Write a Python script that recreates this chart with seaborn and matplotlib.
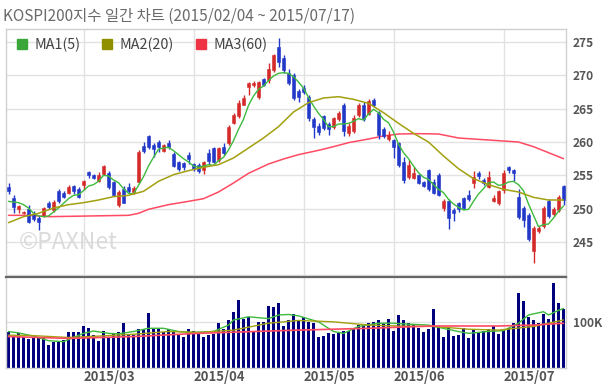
import numpy as np
import pandas as pd
import seaborn as sns
import matplotlib.pyplot as plt
from matplotlib.lines import Line2D

title = "KOSPI200지수 일간 차트 (2015/02/04 ~ 2015/07/17)"
month_pos = [15, 37, 59, 77, 99]
month_labels = ["2015/03", "2015/04", "2015/05", "2015/06", "2015/07"]
price_ticks = [240, 245, 250, 255, 260, 265, 270, 275]

# daily candles (trading days 2015/02/04 .. 2015/07/17)
opens = [253.2, 251.6, 249.9, 249.3, 250.0, 249.0, 248.6, 248.9, 250.8, 249.8,
         252.6, 252.4, 252.4, 253.4, 253.0, 253.5, 255.5, 255.0, 254.1, 255.2,
         255.3, 254.0, 250.6, 253.0, 253.2, 252.5, 254.0, 259.4, 260.9, 259.6,
         260.0, 258.7, 259.8, 258.2, 257.0, 256.9, 258.1, 256.7, 256.5, 255.8,
         258.3, 259.1, 257.3, 259.3, 259.8, 262.9, 263.9, 265.6, 268.3, 268.5,
         266.8, 269.4, 269.3, 270.8, 274.3, 272.6, 270.4, 270.0, 267.6, 268.1,
         266.7, 263.5, 262.4, 263.9, 262.7, 262.3, 263.4, 265.6, 261.3, 261.6,
         264.0, 265.6, 264.2, 266.3, 264.4, 262.0, 260.5, 260.3, 259.8, 257.0,
         254.8, 254.6, 255.0, 254.0, 255.8, 254.0, 255.0, 250.1, 251.2, 249.8,
         250.8, 251.6, 252.1, 253.8, 255.3, 254.3, 253.3, 251.2, 250.8, 252.8,
         256.3, 255.8, 251.8, 250.1, 249.1, 243.6, 246.6, 247.4, 251.1, 249.2,
         249.8, 253.4]
closes = [252.6, 250.2, 250.4, 249.5, 248.0, 248.4, 248.0, 250.1, 250.2, 251.0,
          251.1, 251.8, 253.3, 252.6, 251.8, 254.2, 255.0, 254.6, 255.0, 256.4,
          253.3, 252.1, 252.5, 250.9, 252.6, 253.1, 258.5, 258.7, 259.3, 258.9,
          259.3, 259.5, 259.2, 256.4, 256.0, 256.2, 257.4, 255.9, 255.7, 257.0,
          257.1, 257.0, 259.1, 258.4, 262.3, 264.0, 265.9, 266.6, 268.9, 268.9,
          269.0, 268.6, 271.0, 273.0, 272.0, 270.8, 268.9, 266.6, 266.8, 267.5,
          263.6, 262.3, 261.5, 262.1, 262.0, 263.6, 264.3, 261.6, 262.4, 263.6,
          265.6, 263.4, 266.2, 265.6, 261.0, 260.9, 261.0, 259.2, 256.6, 254.3,
          256.6, 255.4, 253.9, 253.4, 252.9, 252.4, 252.1, 251.1, 248.6, 249.3,
          249.9, 250.1, 251.4, 254.8, 254.9, 253.8, 254.8, 251.6, 252.6, 255.3,
          255.8, 255.3, 248.8, 248.3, 245.4, 247.1, 247.1, 250.1, 248.9, 249.9,
          251.8, 251.3]
highs = [253.8, 252.0, 250.5, 249.6, 250.6, 249.6, 248.9, 250.3, 251.2, 251.3,
         253.0, 252.6, 253.5, 253.6, 253.2, 254.3, 255.7, 255.2, 255.5, 256.5,
         255.6, 254.2, 252.8, 253.4, 253.8, 253.4, 258.8, 260.0, 261.1, 259.8,
         260.3, 259.7, 260.3, 258.5, 257.2, 257.0, 258.5, 256.9, 256.9, 257.2,
         259.0, 259.3, 259.3, 259.8, 262.5, 264.3, 266.3, 267.0, 269.0, 269.2,
         269.2, 269.6, 271.9, 273.2, 275.6, 273.0, 271.0, 270.3, 268.0, 268.6,
         267.0, 263.8, 262.8, 264.1, 263.0, 263.8, 264.6, 265.8, 262.8, 264.0,
         265.8, 266.0, 266.4, 266.6, 264.6, 262.3, 261.6, 260.5, 260.0, 257.8,
         257.3, 256.2, 255.2, 254.2, 256.0, 254.4, 255.4, 251.5, 251.4, 250.1,
         251.0, 251.8, 252.8, 255.6, 255.6, 254.6, 255.6, 252.0, 252.8, 255.8,
         256.4, 256.0, 253.0, 250.4, 249.3, 247.4, 247.4, 250.4, 251.4, 250.3,
         252.0, 253.6]
lows = [252.2, 249.4, 249.4, 249.2, 247.8, 248.2, 246.8, 248.7, 250.0, 249.5,
        250.9, 251.6, 252.2, 252.2, 251.6, 252.8, 254.6, 254.4, 254.0, 255.0,
        253.0, 251.9, 250.3, 250.8, 252.4, 252.2, 253.8, 258.4, 259.0, 257.8,
        258.5, 258.5, 258.9, 256.2, 255.7, 255.8, 256.7, 255.7, 255.3, 255.2,
        256.5, 256.9, 257.0, 258.0, 259.5, 262.7, 263.6, 265.5, 267.0, 268.3,
        266.5, 268.4, 268.8, 270.5, 271.2, 270.3, 268.5, 266.3, 266.0, 267.2,
        263.2, 260.6, 261.1, 261.8, 261.0, 262.0, 263.2, 260.9, 260.9, 261.3,
        263.8, 263.2, 264.0, 265.3, 260.4, 260.6, 260.2, 257.6, 256.3, 253.8,
        254.5, 254.4, 253.7, 253.2, 252.7, 252.2, 251.9, 249.6, 246.9, 248.2,
        249.5, 249.9, 251.2, 253.1, 254.4, 253.6, 253.1, 251.0, 250.6, 252.4,
        255.3, 254.1, 248.4, 247.2, 245.2, 241.9, 246.4, 247.1, 248.6, 248.9,
        249.5, 250.6]
# volume in thousands
volume = [80, 69, 76, 69, 63, 69, 69, 65, 51, 58,
          58, 62, 80, 80, 80, 92, 87, 72, 60, 81,
          69, 76, 79, 98, 72, 72, 85, 85, 120, 85,
          85, 80, 85, 80, 72, 69, 85, 81, 76, 69,
          72, 74, 98, 85, 104, 122, 149, 107, 112, 80,
          100, 100, 136, 133, 141, 92, 105, 117, 104, 112,
          101, 98, 69, 70, 76, 74, 76, 81, 81, 85,
          94, 91, 99, 101, 104, 98, 107, 82, 115, 104,
          98, 94, 87, 80, 85, 128, 91, 69, 87, 70,
          72, 87, 65, 83, 76, 81, 85, 91, 74, 83,
          87, 98, 163, 146, 112, 105, 98, 117, 107, 185,
          141, 130]

# moving average lines as drawn on the chart
ma5 = [251.1, 251.0, 250.9, 250.6, 250.1, 249.3, 248.9, 248.8, 248.9, 249.5,
       250.1, 250.8, 251.5, 252.0, 252.1, 252.7, 253.4, 253.6, 254.1, 255.0,
       254.9, 254.3, 253.9, 253.0, 252.3, 252.2, 253.5, 254.8, 256.4, 257.7,
       258.9, 259.1, 259.2, 258.7, 258.1, 257.5, 257.0, 256.4, 256.2, 256.4,
       256.6, 256.5, 257.2, 257.7, 258.8, 260.2, 261.9, 263.4, 265.5, 266.9,
       267.9, 268.4, 269.2, 269.9, 270.3, 270.4, 270.3, 269.8, 269.0, 268.1,
       266.7, 265.4, 264.3, 263.4, 262.3, 262.3, 262.7, 262.7, 262.8, 263.1,
       263.5, 263.3, 264.2, 264.9, 264.4, 263.4, 262.9, 261.5, 259.7, 258.4,
       257.5, 256.4, 255.4, 254.7, 254.4, 253.6, 252.9, 252.4, 251.4, 250.7,
       250.2, 249.8, 249.9, 251.1, 252.2, 253.0, 253.9, 254.0, 253.5, 253.6,
       254.0, 254.1, 253.6, 252.7, 250.7, 249.0, 247.3, 247.6, 247.7, 248.6,
       249.6, 250.4]
ma20_days = [0, 3, 6, 9, 12, 15, 18, 21, 24, 27, 30, 33, 36, 39, 42, 45, 48, 51, 54,
             57, 60, 63, 66, 69, 72, 75, 78, 81, 84, 87, 90, 93, 96, 99, 102, 105, 108, 111]
ma20 = [247.9, 248.8, 249.3, 250.1, 250.6, 250.9, 251.3, 251.8, 252.0, 252.6, 254.1,
        255.1, 255.7, 256.2, 256.6, 257.6, 259.1, 260.6, 262.3, 264.5, 265.9, 266.6,
        266.8, 266.4, 265.8, 264.4, 262.8, 261.3, 260.0, 257.9, 256.0, 254.5, 253.6,
        252.9, 252.5, 251.7, 251.3, 251.3]
ma60_days = [0, 4, 8, 12, 16, 20, 24, 26, 28, 32, 36, 39, 42, 45, 48, 52, 55, 58, 62,
             65, 68, 72, 75, 78, 82, 86, 90, 95, 98, 102, 105, 108, 111]
ma60 = [249.0, 249.0, 248.8, 248.85, 248.9, 248.95, 249.0, 249.3, 249.9, 250.6, 251.1,
        251.5, 252.5, 253.85, 255.3, 256.7, 257.45, 258.1, 258.75, 259.3, 259.9, 260.45,
        260.9, 261.2, 261.25, 261.2, 260.6, 260.35, 260.2, 260.0, 259.3, 258.4, 257.5]
vma5_days = [0, 2, 5, 8, 11, 15, 17, 20, 22, 25, 28, 31, 34, 37, 41, 44, 45, 48, 52, 54,
             56, 58, 62, 65, 67, 70, 74, 77, 80, 84, 86, 90, 92, 96, 99, 102, 104, 107,
             108, 110, 111]
vma5 = [80, 77, 70, 60, 58, 76, 81, 76, 75, 80, 87, 87, 80, 78, 80, 94, 105, 112, 108,
        116, 117, 114, 101, 80, 76, 91, 98, 98, 96, 94, 89, 80, 76, 80, 82, 98, 116, 123,
        116, 126, 130]
vma20_days = [0, 5, 12, 18, 25, 32, 38, 45, 52, 58, 65, 72, 78, 85, 92, 98, 105, 111]
vma20 = [72, 71, 67, 70, 74, 80, 78, 83, 98, 104, 101, 94, 92, 91, 85, 83, 91, 105]
vma60_days = [0, 12, 25, 38, 52, 58, 72, 85, 98, 105, 111]
vma60 = [69, 65, 69, 76, 81, 83, 87, 92, 92, 94, 98]

c_up, c_down = "#d42a2a", "#2238c8"
c_ma5, c_ma20, c_ma60 = "#3dba3d", "#a3a010", "#ff4a62"
grid_c = "#e2e2e2"

sns.set_style("white")
plt.rcParams['font.family'] = ['Noto Sans CJK KR', 'DejaVu Sans']

fig = plt.figure(figsize=(6.09, 3.89), dpi=100)
ax = fig.add_axes([6 / 609, 1 - 277 / 389, 560 / 609, 248 / 389])
axv = fig.add_axes([6 / 609, 1 - 368.3 / 389, 560 / 609, 91.3 / 389])

df = pd.DataFrame({"day": np.arange(len(closes)), "open": opens, "close": closes,
                   "high": highs, "low": lows, "vol": volume})
colors = np.where(df["close"] >= df["open"], c_up, c_down)

# candles
ax.vlines(df["day"], df["low"], df["high"], colors=colors, lw=1, zorder=3)
body = (df["close"] - df["open"]).abs().clip(lower=0.15)
ax.bar(df["day"], body, bottom=np.minimum(df["open"], df["close"]), width=0.62,
       color=colors, edgecolor=colors, linewidth=0.4, zorder=4)

sns.lineplot(x=df["day"], y=ma5, ax=ax, color=c_ma5, lw=1, zorder=5)
sns.lineplot(x=ma20_days, y=ma20, ax=ax, color=c_ma20, lw=1.1, zorder=5)
sns.lineplot(x=ma60_days, y=ma60, ax=ax, color=c_ma60, lw=1.1, zorder=2)

# volume
sns.barplot(x=df["day"], y=df["vol"], native_scale=True, color="#00007e", saturation=1,
            width=0.72, linewidth=0, ax=axv, zorder=2)
sns.lineplot(x=vma5_days, y=vma5, ax=axv, color=c_ma5, lw=1, zorder=4)
sns.lineplot(x=vma20_days, y=vma20, ax=axv, color=c_ma20, lw=1, zorder=4)
sns.lineplot(x=vma60_days, y=vma60, ax=axv, color=c_ma60, lw=1.2, zorder=4)

for a in (ax, axv):
    a.set_xlim(-0.5, len(closes) - 0.5)
    a.set_xticks(month_pos)
    a.grid(True, color=grid_c, lw=1)
    a.set_axisbelow(True)
    a.set_xlabel("")
    a.set_ylabel("")
    a.yaxis.tick_right()
    a.tick_params(length=0, labelsize=8.6, labelcolor="#555555", pad=5)
    for s in a.spines.values():
        s.set_color("#d0d0d0")
        s.set_linewidth(1)

ax.set_ylim(239.75, 276.95)
ax.set_yticks(price_ticks)
ax.set_yticklabels([""] + [str(t) for t in price_ticks[1:]], fontweight="bold")
ax.set_xticklabels([])

axv.set_ylim(0, 198.5)
axv.set_yticks([100])
axv.set_yticklabels(["100K"], fontweight="bold")
axv.set_xticklabels(month_labels, ha="left", fontweight="bold")
axv.tick_params(axis="x", pad=1, labelsize=9.4)
axv.spines["top"].set_color("#666666")
axv.spines["top"].set_linewidth(1.6)

handles = [Line2D([], [], marker="s", ls="", markersize=7, color=c)
           for c in ("#3aa63a", "#8f8f00", "#ee3344")]
ax.legend(handles, ["MA1(5)", "MA2(20)", "MA3(60)"], loc="upper left",
          bbox_to_anchor=(0.003, 1.0), ncol=3, frameon=False, fontsize=10.3,
          handlelength=0.8, handletextpad=0.45, columnspacing=1.5,
          labelcolor="#444444", borderaxespad=0.2)

fig.text(3 / 609, 1 - 16 / 389, title, fontsize=11.1, color="#6a6a6a", va="center")
fig.text(19 / 609, 1 - 243 / 389, "©PAXNet", fontsize=16.5, color="#dadada",
         va="center", zorder=1)

fig.savefig("out.png", dpi=100)
